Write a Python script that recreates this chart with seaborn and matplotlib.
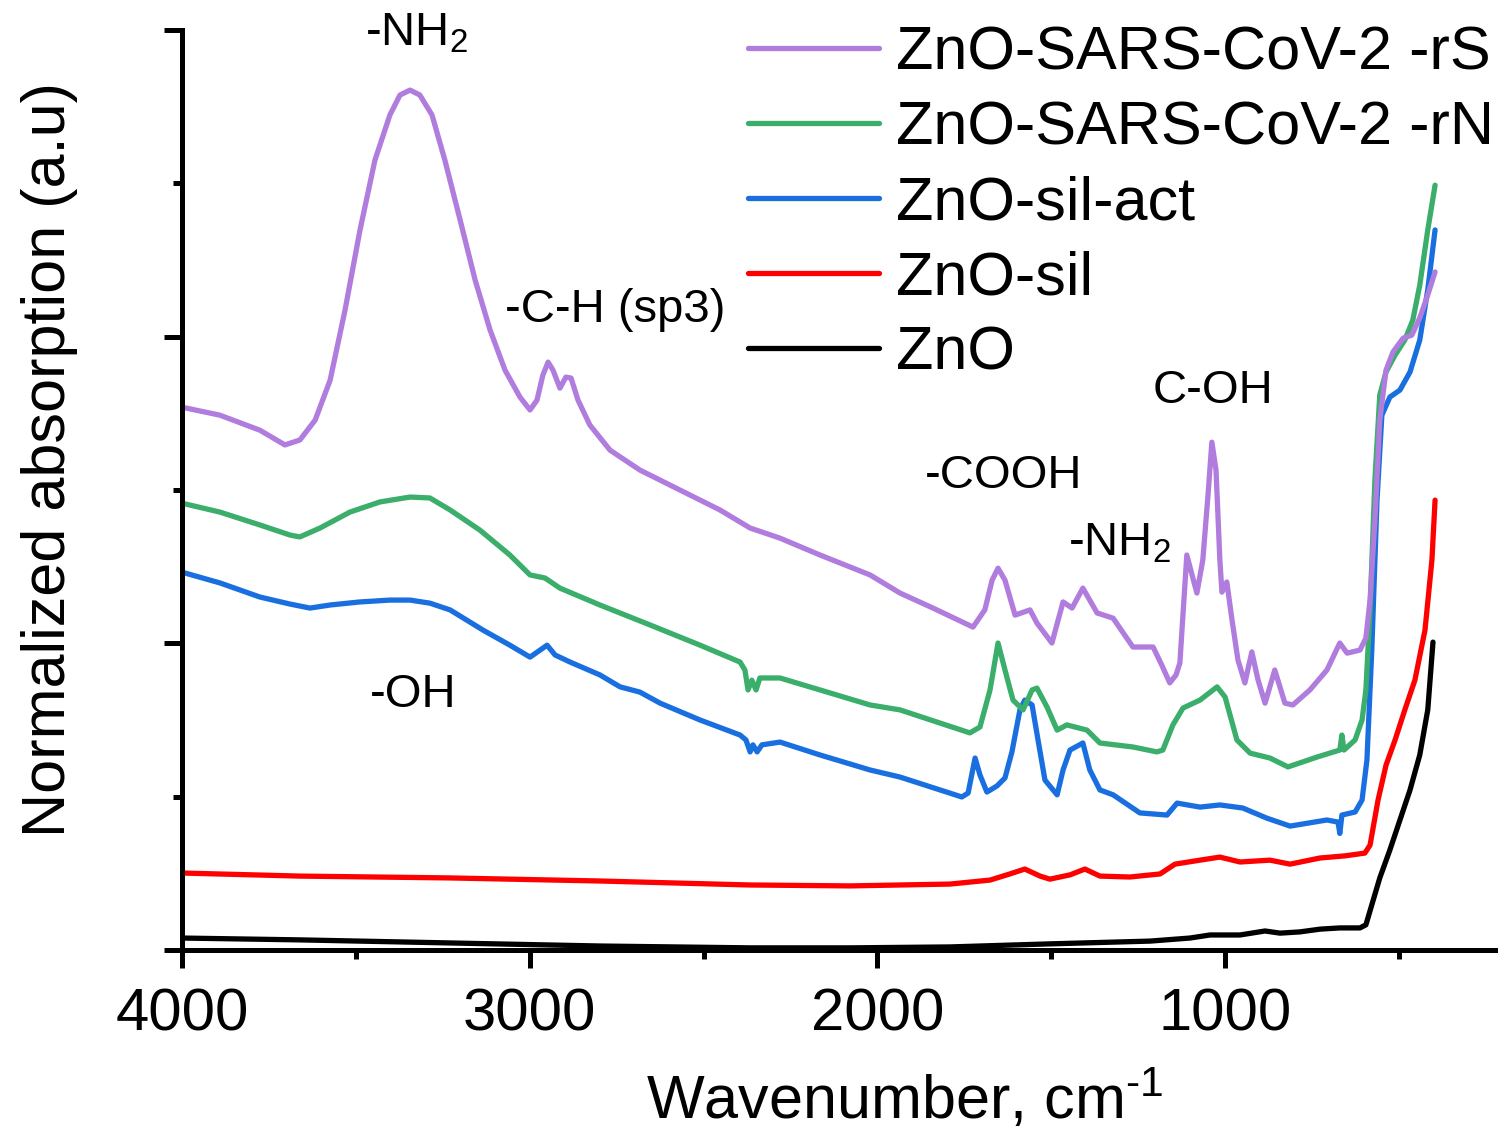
import numpy as np
import pandas as pd
import matplotlib
matplotlib.use("Agg")
import matplotlib.pyplot as plt
from matplotlib.ticker import MultipleLocator
import seaborn as sns

# ---------------- data ----------------
wn_rS = [4000, 3891, 3776, 3704, 3661, 3617, 3574, 3531, 3488, 3445, 3402, 3373, 3344, 3316,
         3281, 3244, 3200, 3157, 3114, 3071, 3028, 2999, 2979, 2962, 2947, 2933, 2913, 2896,
         2881, 2861, 2827, 2769, 2683, 2568, 2453, 2366, 2280, 2165, 2021, 1935, 1840, 1725,
         1691, 1670, 1653, 1633, 1604, 1561, 1541, 1498, 1466, 1440, 1409, 1368, 1322, 1265,
         1207, 1182, 1159, 1141, 1130, 1110, 1095, 1081, 1064, 1049, 1038, 1026, 1015, 1009,
         995, 980, 963, 943, 923, 905, 885, 857, 828, 805, 756, 707, 670, 649, 612, 595, 583,
         569, 555, 537, 517, 488, 463, 440, 417, 396]
ab_rS = [1.770, 1.744, 1.695, 1.647, 1.663, 1.728, 1.858, 2.087, 2.348, 2.576, 2.723, 2.788,
         2.804, 2.788, 2.723, 2.576, 2.380, 2.185, 2.022, 1.891, 1.803, 1.761, 1.793, 1.875,
         1.917, 1.891, 1.832, 1.868, 1.865, 1.793, 1.712, 1.630, 1.565, 1.500, 1.435, 1.376,
         1.343, 1.288, 1.223, 1.164, 1.115, 1.053, 1.109, 1.206, 1.245, 1.206, 1.092, 1.109,
         1.066, 1.001, 1.135, 1.115, 1.180, 1.099, 1.082, 0.988, 0.988, 0.929, 0.871, 0.897,
         0.936, 1.288, 1.223, 1.164, 1.272, 1.484, 1.656, 1.565, 1.272, 1.167, 1.200, 1.076,
         0.946, 0.871, 0.972, 0.880, 0.805, 0.913, 0.805, 0.799, 0.848, 0.913, 1.001, 0.968,
         0.978, 1.017, 1.141, 1.402, 1.728, 1.891, 1.950, 1.995, 2.005, 2.061, 2.136, 2.211]

wn_rN = [4000, 3891, 3776, 3689, 3661, 3603, 3517, 3431, 3344, 3287, 3229, 3143, 3057, 2999,
         2956, 2913, 2798, 2654, 2510, 2395, 2381, 2372, 2361, 2349, 2338, 2280, 2165, 2021,
         1935, 1734, 1705, 1676, 1653, 1633, 1610, 1581, 1555, 1541, 1512, 1483, 1455, 1397,
         1360, 1265, 1196, 1179, 1150, 1121, 1072, 1023, 1000, 966, 928, 871, 819, 736, 670,
         664, 658, 626, 606, 595, 583, 569, 555, 537, 511, 483, 460, 440, 417, 396]
ab_rN = [1.457, 1.428, 1.386, 1.353, 1.347, 1.376, 1.428, 1.461, 1.477, 1.474, 1.435, 1.369,
         1.288, 1.223, 1.213, 1.180, 1.125, 1.060, 0.994, 0.939, 0.913, 0.848, 0.880, 0.848,
         0.887, 0.887, 0.848, 0.799, 0.783, 0.708, 0.727, 0.848, 1.001, 0.913, 0.815, 0.783,
         0.848, 0.854, 0.792, 0.717, 0.734, 0.717, 0.675, 0.662, 0.646, 0.652, 0.734, 0.789,
         0.815, 0.858, 0.825, 0.685, 0.642, 0.626, 0.597, 0.629, 0.652, 0.701, 0.652, 0.685,
         0.750, 0.848, 1.109, 1.533, 1.810, 1.885, 1.940, 1.989, 2.054, 2.168, 2.348, 2.494]

wn_act = [4000, 3891, 3776, 3689, 3632, 3574, 3488, 3402, 3344, 3287, 3229, 3134, 3057, 2999,
          2970, 2950, 2927, 2884, 2798, 2740, 2683, 2625, 2510, 2395, 2378, 2366, 2358, 2346,
          2332, 2280, 2165, 2021, 1935, 1757, 1739, 1719, 1705, 1685, 1656, 1633, 1613, 1590,
          1576, 1555, 1538, 1518, 1483, 1466, 1446, 1409, 1389, 1360, 1322, 1245, 1167, 1138,
          1072, 1015, 949, 880, 813, 707, 675, 670, 664, 626, 606, 592, 578, 563, 549, 526,
          497, 468, 440, 417, 396]
ab_act = [1.232, 1.197, 1.151, 1.128, 1.115, 1.125, 1.135, 1.141, 1.141, 1.131, 1.109, 1.043,
          0.994, 0.955, 0.978, 0.994, 0.962, 0.939, 0.897, 0.858, 0.841, 0.805, 0.750, 0.701,
          0.685, 0.646, 0.669, 0.646, 0.669, 0.678, 0.636, 0.587, 0.564, 0.499, 0.512, 0.626,
          0.571, 0.515, 0.535, 0.561, 0.646, 0.783, 0.815, 0.799, 0.685, 0.554, 0.506, 0.587,
          0.652, 0.675, 0.587, 0.522, 0.506, 0.447, 0.440, 0.479, 0.466, 0.473, 0.463, 0.430,
          0.404, 0.424, 0.417, 0.380, 0.440, 0.450, 0.489, 0.619, 0.978, 1.467, 1.744, 1.803,
          1.826, 1.885, 1.989, 2.153, 2.348]

wn_sil = [4000, 3661, 3229, 2798, 2366, 2079, 1791, 1676, 1619, 1576, 1532, 1504, 1446, 1403,
          1360, 1274, 1187, 1144, 1072, 1015, 957, 871, 813, 727, 655, 598, 583, 560, 537, 511,
          483, 454, 425, 405, 396]
ab_sil = [0.251, 0.241, 0.235, 0.225, 0.212, 0.209, 0.215, 0.228, 0.248, 0.264, 0.241, 0.231,
          0.245, 0.264, 0.241, 0.238, 0.248, 0.280, 0.293, 0.303, 0.287, 0.293, 0.280, 0.300,
          0.307, 0.316, 0.342, 0.489, 0.603, 0.685, 0.783, 0.880, 1.043, 1.272, 1.467]

wn_zno = [4000, 3661, 3229, 2798, 2366, 2079, 1791, 1504, 1216, 1101, 1043, 957, 885, 842, 785,
          727, 670, 612, 595, 578, 555, 526, 497, 468, 440, 417, 402]
ab_zno = [0.039, 0.033, 0.023, 0.013, 0.007, 0.007, 0.010, 0.020, 0.029, 0.039, 0.049, 0.049,
          0.062, 0.055, 0.059, 0.068, 0.072, 0.072, 0.082, 0.147, 0.235, 0.326, 0.424, 0.522,
          0.636, 0.783, 1.004]

series_names = ["ZnO", "ZnO-sil", "ZnO-sil-act", "ZnO-SARS-CoV-2 -rN", "ZnO-SARS-CoV-2 -rS"]
series_wn = [wn_zno, wn_sil, wn_act, wn_rN, wn_rS]
series_ab = [ab_zno, ab_sil, ab_act, ab_rN, ab_rS]
series_colors = ["#000000", "#FF0000", "#1A6FE0", "#3AAE6A", "#B07CDD"]

annot_text = ["-NH$_2$", "-C-H (sp3)", "-OH", "-COOH", "-NH$_2$", "C-OH"]
annot_x = [3474, 3071, 3459, 1863, 1452, 1207]
annot_y = [2.951, 2.048, 0.792, 1.506, 1.288, 1.784]

# ---------------- style ----------------
sns.set_theme(style="white")
plt.rcParams["font.family"] = ["Liberation Sans", "DejaVu Sans"]
plt.rcParams["mathtext.fontset"] = "custom"
plt.rcParams["mathtext.rm"] = "Liberation Sans"
plt.rcParams["mathtext.it"] = "Liberation Sans"
plt.rcParams["mathtext.default"] = "regular"

W, H = 1498, 1131
fig = plt.figure(figsize=(W / 100, H / 100), dpi=100)
ax = fig.add_axes([182 / W, 1 - 950 / H, (W - 182) / W, 920 / H])

frames = []
for name, wn, ab in zip(series_names, series_wn, series_ab):
    frames.append(pd.DataFrame({"wn": wn, "ab": ab, "sample": name}))
df = pd.concat(frames, ignore_index=True)

for name, col in zip(series_names, series_colors):
    sub = df[df["sample"] == name]
    sns.lineplot(data=sub, x="wn", y="ab", color=col, lw=3.8, sort=False,
                 estimator=None, ax=ax, label=name)

ax.set_xlim(4000, 215)
ax.set_ylim(0, 3.0)

ax.xaxis.set_major_locator(MultipleLocator(1000))
ax.xaxis.set_minor_locator(MultipleLocator(500))
ax.yaxis.set_major_locator(MultipleLocator(1))
ax.yaxis.set_minor_locator(MultipleLocator(0.5))
ax.set_yticklabels([])

for s in ["top", "right"]:
    ax.spines[s].set_visible(False)
for s in ["left", "bottom"]:
    ax.spines[s].set_linewidth(3.6)
    ax.spines[s].set_color("black")

ax.tick_params(axis="both", which="major", direction="out", length=13, width=3.6,
               color="black", labelsize=43, pad=14, left=True, bottom=True,
               labelcolor="black")
ax.tick_params(axis="both", which="minor", direction="out", length=6.5, width=3.6,
               color="black", left=True, bottom=True)
ax.tick_params(axis="y", which="both", labelleft=False)

ax.set_xlabel("Wavenumber, cm$^{\\text{-}1}$", fontsize=44, color="black")
ax.set_ylabel("Normalized absorption (a.u)", fontsize=44, color="black")
ax.xaxis.set_label_coords(0.549, -0.128)
ax.yaxis.set_label_coords(-0.079, 0.533)

for t, x, y in zip(annot_text, annot_x, annot_y):
    ax.text(x, y, t, fontsize=34, ha="left", va="baseline", color="black")

h, l = ax.get_legend_handles_labels()
leg = ax.legend(h[::-1], l[::-1], loc="upper left",
                bbox_to_anchor=(748 / W, 1 - 25 / H), bbox_transform=fig.transFigure,
                frameon=False, fontsize=44, handlelength=2.15, handletextpad=0.27,
                labelspacing=0.295, borderpad=0, borderaxespad=0)
for line in leg.get_lines():
    line.set_linewidth(3.8)
for txt in leg.get_texts():
    txt.set_color("black")

fig.savefig("out.png", dpi=100)
